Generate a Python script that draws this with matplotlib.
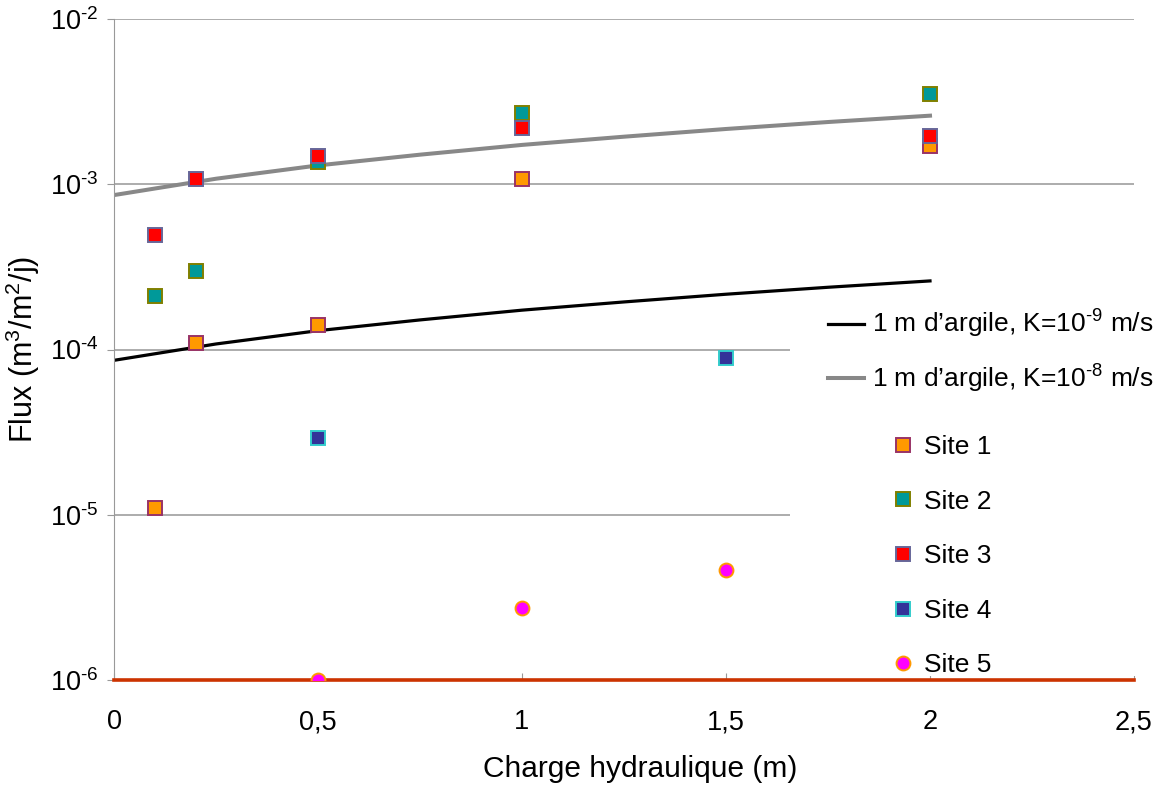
import numpy as np
import matplotlib
matplotlib.use('Agg')
import matplotlib.pyplot as plt
from matplotlib.patches import Rectangle

plt.rcParams['font.family'] = ['Liberation Sans', 'DejaVu Sans']
plt.rcParams['mathtext.fontset'] = 'custom'
plt.rcParams['mathtext.rm'] = 'Liberation Sans'
plt.rcParams['mathtext.it'] = 'Liberation Sans'
plt.rcParams['mathtext.bf'] = 'Liberation Sans'

# theoretical flux through 1 m of clay
h_line = [0, 0.25, 0.5, 0.75, 1.0, 1.25, 1.5, 1.75, 2.0]
flux_k9 = [8.6e-5, 1.08e-4, 1.3e-4, 1.51e-4, 1.73e-4, 1.94e-4, 2.16e-4, 2.38e-4, 2.6e-4]
flux_k8 = [8.6e-4, 1.08e-3, 1.3e-3, 1.51e-3, 1.73e-3, 1.94e-3, 2.16e-3, 2.38e-3, 2.6e-3]

# measured sites
site1_x = [0.1, 0.2, 0.5, 1.0, 2.0]
site1_y = [1.1e-5, 1.1e-4, 1.4e-4, 1.08e-3, 1.7e-3]
site2_x = [0.1, 0.2, 0.5, 1.0, 2.0]
site2_y = [2.1e-4, 3.0e-4, 1.36e-3, 2.7e-3, 3.5e-3]
site3_x = [0.1, 0.2, 0.5, 1.0, 2.0]
site3_y = [4.9e-4, 1.08e-3, 1.48e-3, 2.2e-3, 1.96e-3]
site4_x = [0.5, 1.5]
site4_y = [2.9e-5, 8.9e-5]
site5_x = [0.5, 1.0, 1.5]
site5_y = [1.0e-6, 2.72e-6, 4.6e-6]

x_ticks = [0, 0.5, 1, 1.5, 2, 2.5]
x_labels = ['0', '0,5', '1', '1,5', '2', '2,5']
y_ticks = [1e-6, 1e-5, 1e-4, 1e-3, 1e-2]
y_labels = ['10$^{\\text{-}6}$', '10$^{\\text{-}5}$', '10$^{\\text{-}4}$',
            '10$^{\\text{-}3}$', '10$^{\\text{-}2}$']
line_labels = ['1 m d\u2019argile, K=10$^{\\text{-}9}$ m/s',
               '1 m d\u2019argile, K=10$^{\\text{-}8}$ m/s']
site_labels = ['Site 1', 'Site 2', 'Site 3', 'Site 4', 'Site 5']

fig = plt.figure(figsize=(11.65, 7.92), dpi=100)
ax = fig.add_axes([114/1165, 1-680/792, 1020/1165, 661/792])
ax.set_axisbelow(True)

l9, = ax.plot(h_line, flux_k9, color='black', lw=2.3, zorder=2)
l8, = ax.plot(h_line, flux_k8, color='#888888', lw=2.9, zorder=2)

ms = 9.5
mew = 1.4
s1, = ax.plot(site1_x, site1_y, 's', ms=ms, mfc='#ff9900', mec='#993366', mew=mew, ls='none', zorder=3)
s2, = ax.plot(site2_x, site2_y, 's', ms=ms, mfc='#009999', mec='#808000', mew=mew, ls='none', zorder=3)
s3, = ax.plot(site3_x, site3_y, 's', ms=ms, mfc='#ff0000', mec='#666699', mew=mew, ls='none', zorder=3)
s4, = ax.plot(site4_x, site4_y, 's', ms=ms, mfc='#333399', mec='#33cccc', mew=mew, ls='none', zorder=3)
s5, = ax.plot(site5_x, site5_y, 'o', ms=10, mfc='#ff00ff', mec='#ff9900', mew=mew, ls='none', zorder=4)

ax.set_yscale('log')
ax.set_xlim(0, 2.5)
ax.set_ylim(1e-6, 1e-2)
ax.set_xticks(x_ticks)
ax.set_xticklabels(x_labels)
ax.set_yticks(y_ticks)
ax.set_yticklabels(y_labels)
ax.minorticks_off()
ax.tick_params(axis='x', direction='in', length=5, color='#999999', labelsize=19.5, pad=21)
ax.tick_params(axis='y', direction='out', length=5, color='#999999', labelsize=19.5, pad=6)
ax.yaxis.grid(True, color='#a6a6a6', lw=1.3)

for side in ['top', 'right']:
    ax.spines[side].set_visible(False)
ax.spines['left'].set_color('#999999')
ax.spines['bottom'].set_color('#cc3300')
ax.spines['bottom'].set_linewidth(2.6)
ax.spines['bottom'].set_zorder(3.5)

ax.set_xlabel('Charge hydraulique (m)', fontsize=21.5, labelpad=14)
ax.xaxis.label.set_x((640 - 114) / 1020)
ax.set_ylabel('Flux (m$^3$/m$^2$/j)', fontsize=22, labelpad=6)

# white box behind the legend hides the gridlines
ax.add_patch(Rectangle((790/1165, 1-676/792), 375/1165, 378/792, transform=fig.transFigure,
                       facecolor='white', edgecolor='none', clip_on=False, zorder=1.5))

leg1 = fig.legend([l9, l8], line_labels,
                  loc='upper left', bbox_to_anchor=(828/1165, 1-308/792), frameon=False,
                  fontsize=19, handlelength=1.35, handletextpad=0.3, labelspacing=0.85,
                  borderpad=0, borderaxespad=0)
leg2 = fig.legend([s1, s2, s3, s4, s5], site_labels,
                  loc='upper left', bbox_to_anchor=(890/1165, 1-435/792), frameon=False,
                  fontsize=19, handlelength=1.0, handletextpad=0.3, labelspacing=1.16,
                  borderpad=0, borderaxespad=0)

fig.savefig('out.png', dpi=100)
